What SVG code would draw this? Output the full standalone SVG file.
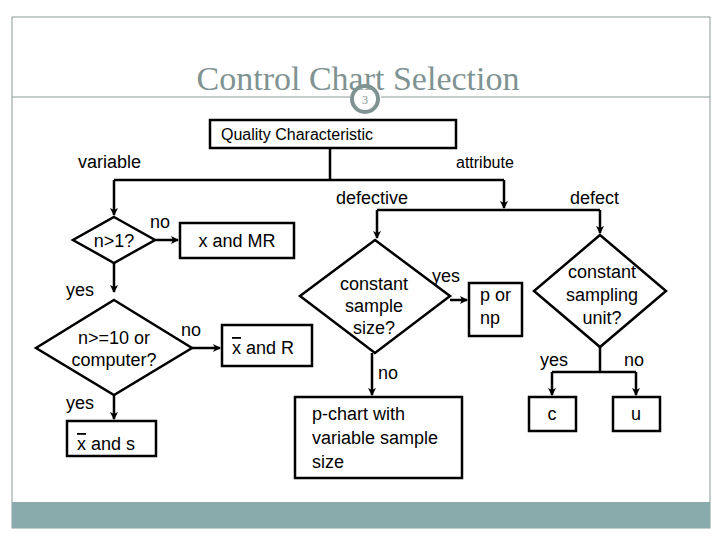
<svg xmlns="http://www.w3.org/2000/svg" width="720" height="540" viewBox="0 0 720 540">
<defs>
<marker id="ah" markerWidth="8" markerHeight="8" refX="7" refY="4" orient="auto" markerUnits="userSpaceOnUse"><path d="M0,0 L8,4 L0,8 L2,4 z" fill="#000"/></marker>
<style>
.s{fill:#fff;stroke:#000;stroke-width:2.5}
.c{fill:none;stroke:#000;stroke-width:2.5}
text{font-family:"Liberation Sans",Arial,sans-serif;font-size:18px;fill:#000}
.m{text-anchor:middle}
.ob{text-decoration:overline}
</style>
</defs>
<rect width="720" height="540" fill="#fff"/>
<rect x="12" y="17" width="698" height="511" fill="none" stroke="#8a9a9a" stroke-width="1"/>
<rect x="12" y="502" width="698" height="26" fill="#8aabab"/>
<line x1="12" y1="97" x2="350" y2="97" stroke="#8a9a9a"/>
<line x1="381" y1="97" x2="710" y2="97" stroke="#8a9a9a"/>
<text x="358" y="90" class="m" style="font-family:'Liberation Serif',serif;font-size:34px;fill:#7f9393">Control Chart Selection</text>
<circle cx="365" cy="99" r="13" fill="#fff" fill-opacity="0.3" stroke="#7f9393" stroke-width="4"/>
<text x="365" y="104" class="m" style="font-family:'Liberation Serif',serif;font-size:12px;fill:#7f9393">3</text>
<g id="connectors">
<path class="c" d="M330,148 V180 M114,180 H504"/>
<path class="c" d="M114,180 V215" marker-end="url(#ah)"/>
<path class="c" d="M504,180 V208" marker-end="url(#ah)"/>
<path class="c" d="M377,210 H600"/>
<path class="c" d="M377,210 V238" marker-end="url(#ah)"/>
<path class="c" d="M600,210 V233" marker-end="url(#ah)"/>
<path class="c" d="M155,240 H178" marker-end="url(#ah)"/>
<path class="c" d="M114,263 V292" marker-end="url(#ah)"/>
<path class="c" d="M192,348 H220" marker-end="url(#ah)"/>
<path class="c" d="M114,395 V419" marker-end="url(#ah)"/>
<path class="c" d="M450,300 H467" marker-end="url(#ah)"/>
<path class="c" d="M372,353 V395" marker-end="url(#ah)"/>
<path class="c" d="M600,347 V372 M552,372 H636"/>
<path class="c" d="M552,372 V395" marker-end="url(#ah)"/>
<path class="c" d="M636,372 V395" marker-end="url(#ah)"/>
</g>
<g id="labels">
<text x="78" y="168">variable</text>
<text x="456" y="168" style="font-size:16px">attribute</text>
<text x="336" y="204">defective</text>
<text x="570" y="204">defect</text>
<text x="150" y="228">no</text>
<text x="66" y="296">yes</text>
<text x="181" y="336">no</text>
<text x="66" y="409">yes</text>
<text x="432" y="282">yes</text>
<text x="378" y="379">no</text>
<text x="540" y="366">yes</text>
<text x="624" y="366">no</text>
</g>
<g id="qc"><rect class="s" x="210" y="120" width="246" height="28"/><text x="297" y="140" class="m" style="font-size:16px">Quality Characteristic</text></g>
<g id="n1"><path class="s" d="M114,217 L155,240 L114,263 L73,240 z"/><text x="114" y="247" class="m">n&gt;1?</text></g>
<g id="xmr"><rect class="s" x="180" y="223" width="114" height="35"/><text x="237" y="247" class="m">x and MR</text></g>
<g id="n10"><path class="s" d="M114,300 L192,348 L114,395 L36,348 z"/><text x="114" y="344" class="m">n&gt;=10 or</text><text x="114" y="366" class="m">computer?</text></g>
<g id="xr"><rect class="s" x="222" y="325" width="90" height="41"/><text x="232" y="354"><tspan class="ob">x</tspan> and R</text></g>
<g id="xs"><rect class="s" x="67" y="421" width="89" height="35"/><text x="77" y="450"><tspan class="ob">x</tspan> and s</text></g>
<g id="css"><path class="s" d="M375,240 L450,296 L375,353 L300,296 z"/><text x="374" y="290" class="m">constant</text><text x="374" y="312" class="m">sample</text><text x="374" y="334" class="m">size?</text></g>
<g id="pnp"><rect class="s" x="469" y="283" width="53" height="53"/><text x="480" y="301">p or</text><text x="480" y="324">np</text></g>
<g id="pchart"><rect class="s" x="295" y="397" width="167" height="81"/><text x="312" y="420">p-chart with</text><text x="312" y="444">variable sample</text><text x="312" y="468">size</text></g>
<g id="csu"><path class="s" d="M600,235 L666,291 L600,347 L534,291 z"/><text x="602" y="278" class="m">constant</text><text x="602" y="301" class="m">sampling</text><text x="602" y="324" class="m">unit?</text></g>
<g id="c"><rect class="s" x="529" y="397" width="47" height="34"/><text x="552" y="420" class="m">c</text></g>
<g id="u"><rect class="s" x="613" y="397" width="47" height="34"/><text x="636" y="420" class="m">u</text></g>
</svg>
